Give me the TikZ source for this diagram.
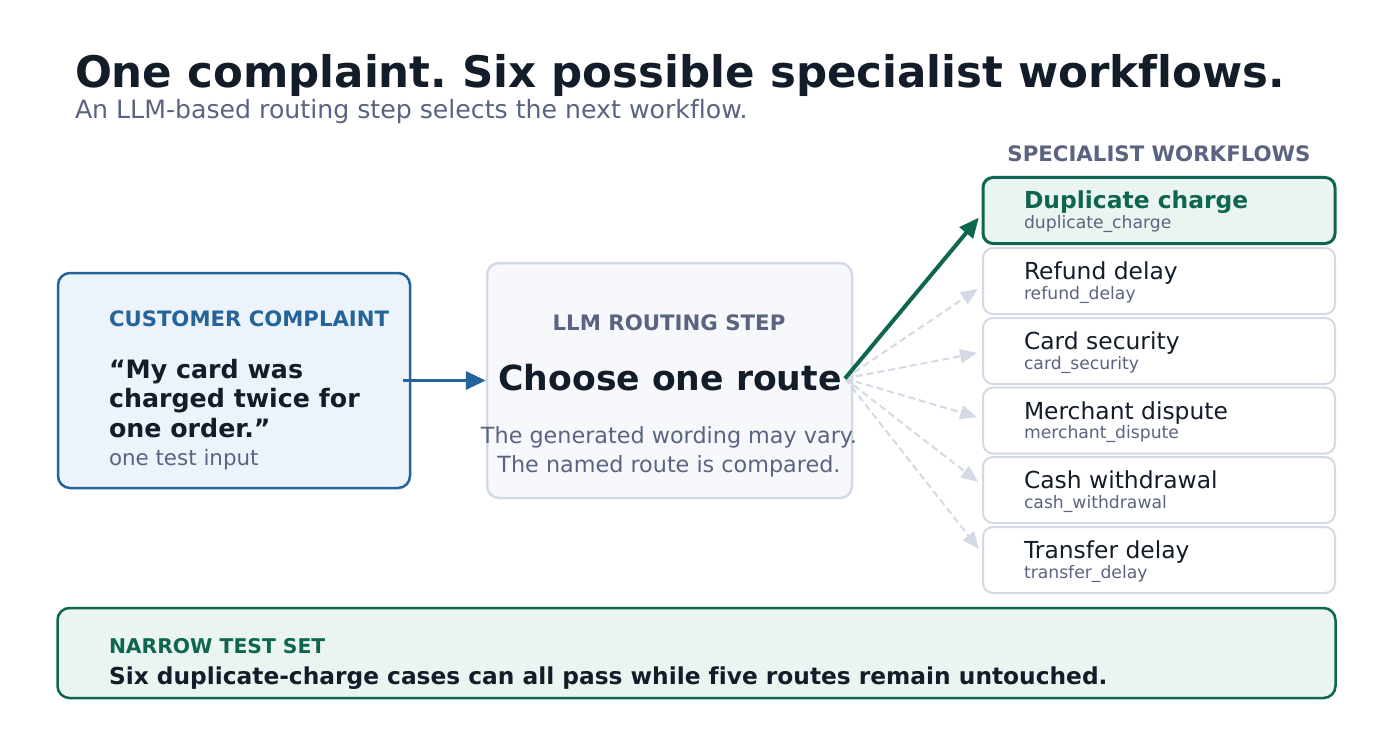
\documentclass[tikz,border=0pt]{standalone}
\usepackage{fontspec}
\setmainfont[Ligatures={NoCommon}]{DejaVu Sans}
\usetikzlibrary{arrows.meta,calc}
\definecolor{ink}{HTML}{131C29}
\definecolor{slate}{HTML}{5A6480}
\definecolor{blueS}{HTML}{24649A}
\definecolor{blueF}{HTML}{EDF3FA}
\definecolor{greenS}{HTML}{0F6650}
\definecolor{greenF}{HTML}{EAF4F0}
\definecolor{lineG}{HTML}{D3DAE5}
\definecolor{llmF}{HTML}{F6F8FC}
\tikzset{
  bigbox/.style={rectangle, rounded corners=12pt, line width=2.5pt, inner sep=0pt},
  wfbox/.style={rectangle, rounded corners=10pt, line width=2pt, draw=lineG, fill=white, inner sep=0pt, minimum width=352pt, minimum height=66pt},
  wfsel/.style={wfbox, draw=greenS, fill=greenF, line width=3pt},
  txt/.style={anchor=base west, inner sep=0pt, outer sep=0pt},
  ctxt/.style={anchor=base, inner sep=0pt, outer sep=0pt},
  wftitle/.style={txt, text=ink, font=\fontsize{23.4}{28}\selectfont},
  wfsub/.style={txt, text=slate, font=\fontsize{17.2}{20}\selectfont},
  dashline/.style={draw=lineG, line width=2pt, dash pattern=on 7pt off 4pt, -{Triangle[length=17pt,width=14pt]}},
}
\begin{document}
\frenchspacing
\begin{tikzpicture}[x=1pt,y=-1pt]
\useasboundingbox[fill=white] (0,0) rectangle (1400,738);

% title
\node[txt, text=ink, font=\bfseries\fontsize{43.5}{50}\selectfont] (title) at (75,88) {One complaint. Six possible specialist workflows.};
\node[txt, text=slate, font=\fontsize{25.2}{29}\selectfont] (subtitle) at (75,119) {An LLM-based routing step selects the next workflow.};

% complaint box
\node[bigbox, draw=blueS, fill=blueF, minimum width=352pt, minimum height=215pt] (complaint) at (234,380.5) {};
\node[txt, text=blueS, font=\bfseries\fontsize{21.2}{25}\selectfont] (cclabel) at (109,326) {CUSTOMER COMPLAINT};
\node[txt, text=ink, font=\bfseries\fontsize{25.3}{29.5}\selectfont, align=left] (quote) at (109,437) {“My card was\\charged twice for\\one order.”};
\node[txt, text=slate, font=\fontsize{21.4}{25}\selectfont] (testin) at (109,465) {one test input};

% LLM box
\node[bigbox, draw=lineG, fill=llmF, minimum width=365pt, minimum height=235pt] (llm) at (669.5,380.5) {};
\node[ctxt, text=slate, font=\bfseries\fontsize{21.3}{25}\selectfont] (llmlabel) at (669,330) {LLM ROUTING STEP};
\node[ctxt, text=ink, font=\bfseries\fontsize{34.6}{40}\selectfont] (choose) at (670,390) {Choose one route};
\node[ctxt, text=slate, font=\fontsize{22.3}{28.5}\selectfont, align=center] (note) at (669,472) {The generated wording may vary.\\The named route is compared.};

\draw[blueS, line width=3.5pt, -{Triangle[length=20pt,width=18pt]}, shorten <=-8pt] (complaint.east) -- (llm.west);

% specialist workflows
\node[ctxt, text=slate, font=\bfseries\fontsize{21.3}{25}\selectfont] (swlabel) at (1159,162) {SPECIALIST WORKFLOWS};

\node[wfsel] (w1) at (1159,210.5) {};
\node[wfbox] (w2) at (1159,281) {};
\node[wfbox] (w3) at (1159,351) {};
\node[wfbox] (w4) at (1159,420.5) {};
\node[wfbox] (w5) at (1159,490) {};
\node[wfbox] (w6) at (1159,560) {};

\node[txt, text=greenS, font=\bfseries\fontsize{23.4}{28}\selectfont] (t1) at (1024,209) {Duplicate charge};
\node[wfsub] (s1) at (1024,228.5) {duplicate\_charge};
\node[wftitle] (t2) at (1024,279.5) {Refund delay};
\node[wfsub] (s2) at (1024,299) {refund\_delay};
\node[wftitle] (t3) at (1024,349.5) {Card security};
\node[wfsub] (s3) at (1024,369) {card\_security};
\node[wftitle] (t4) at (1024,419) {Merchant dispute};
\node[wfsub] (s4) at (1024,438.5) {merchant\_dispute};
\node[wftitle] (t5) at (1024,488.5) {Cash withdrawal};
\node[wfsub] (s5) at (1024,508) {cash\_withdrawal};
\node[wftitle] (t6) at (1024,558.5) {Transfer delay};
\node[wfsub] (s6) at (1024,578) {transfer\_delay};

% routing arrows
\coordinate (hub) at (845,378.5);
\draw[dashline, shorten >=5pt] (hub) -- ($(w2.west)+(0,5)$);
\draw[dashline, shorten >=5pt] (hub) -- ($(w3.west)+(0,1)$);
\draw[dashline, shorten >=5pt] (hub) -- ($(w4.west)+(0,-2)$);
\draw[dashline, shorten >=5pt] (hub) -- ($(w5.west)+(0,-5)$);
\draw[dashline, shorten >=5pt] (hub) -- ($(w6.west)+(0,-7)$);
\draw[greenS, line width=4pt, -{Triangle[length=20pt,width=17pt]}, shorten >=4pt] (hub) -- ($(w1.west)+(0,4)$);

% bottom box
\node[bigbox, draw=greenS, fill=greenF, minimum width=1278pt, minimum height=90pt] (narrow) at (696.5,653) {};
\node[txt, text=greenS, font=\bfseries\fontsize{20.3}{24}\selectfont] (nlabel) at (109,653) {NARROW TEST SET};
\node[txt, text=ink, font=\bfseries\fontsize{23.3}{27}\selectfont] (nbody) at (109,684) {Six duplicate-charge cases can all pass while five routes remain untouched.};
\end{tikzpicture}
\end{document}
